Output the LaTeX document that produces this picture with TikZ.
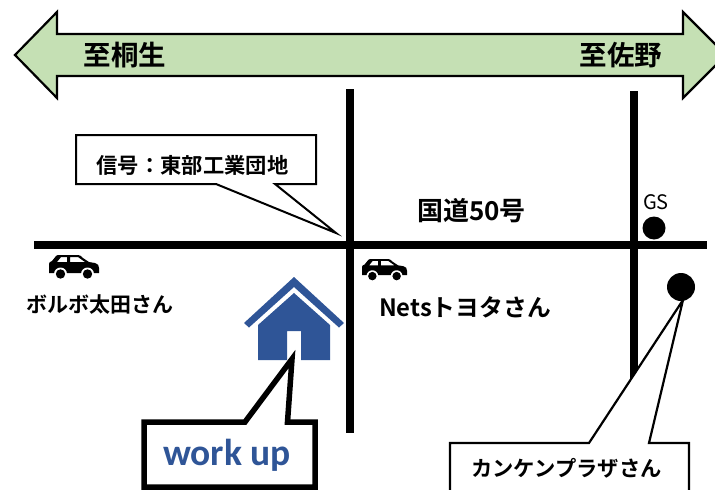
\documentclass[tikz,border=0pt]{standalone}
\usepackage{fontspec}
\setmainfont{Noto Sans CJK JP}[BoldFont={Noto Sans CJK JP Bold}]
\newfontfamily\latinfont{Carlito}
\usetikzlibrary{calc}
\definecolor{arrowgreen}{HTML}{C5E0B4}
\definecolor{housebl}{HTML}{2F5597}
\tikzset{
  x=1pt,y=-1pt,
  road/.style={line width=8pt,black},
  calloutbox/.style={draw=black,fill=white,line width=2pt,miter limit=20,line join=miter},
  big/.style={font=\fontsize{27.5}{27.5}\selectfont\bfseries,inner sep=0pt},
  mid/.style={font=\fontsize{21.3}{21.3}\selectfont\bfseries,inner sep=0pt},
  lab/.style={font=\fontsize{21}{21}\selectfont\bfseries,inner sep=0pt},
  dotmark/.style={circle,fill=black,inner sep=0pt},
}
\newcommand{\carglyph}[3]{%
\begin{scope}[shift={(#1,#2)},xscale=#3,yscale=#3]
 \fill[black,even odd rule] (0,18) -- (0,9) .. controls (0,7) and (1,7) .. (3,6) -- (7,1) .. controls (8,0) and (9,0) .. (11,0)
   -- (29,0) .. controls (31,0) and (32,1) .. (34,3) -- (40,7) -- (46,8) .. controls (49,9) and (50,10) .. (50,13) -- (50,18) -- cycle
   (8,7) -- (12,2) -- (18,2) -- (18,7) -- cycle
   (21,2) -- (29,2) -- (36,7) -- (21,7) -- cycle;
 \fill[white] (11.5,19) circle (6.5) (38.5,19) circle (6.5);
 \fill[black] (11.5,19) circle (4.7) (38.5,19) circle (4.7);
\end{scope}}
\begin{document}
\begin{tikzpicture}
\useasboundingbox (0,0) rectangle (715,490);
\clip (0,0) rectangle (715,490);
% double arrow
\draw[draw=black,fill=arrowgreen,line width=2.2pt,miter limit=10]
  (15,55) -- (57,12) -- (57,34) -- (683,34) -- (683,12) -- (726,55) -- (683,98) -- (683,76) -- (57,76) -- (57,98) -- cycle;
\node[big] (toleft) at (125,55) {至桐生};
\node[big] (toright) at (621,55) {至佐野};
% roads
\coordinate (rw) at (34,245); \coordinate (re) at (707,245);
\coordinate (v1t) at (350,89); \coordinate (v1b) at (350,433);
\coordinate (v2t) at (634,91); \coordinate (v2b) at (634,382);
\draw[road] (rw) -- (re);
\draw[road] (v1t) -- (v1b);
\draw[road] (v2t) -- (v2b);
% signal callout
\coordinate (sigtip) at (336,233);
\draw[calloutbox] (76,135) -- (316,135) -- (316,184) -- (275,184) -- (sigtip) -- (216,184) -- (76,184) -- cycle;
\node[mid] (sig) at (192.5,165) {信号：東部工業団地};
\node[font=\fontsize{26}{26}\selectfont\bfseries,inner sep=0pt] (route) at (471.5,211) {国道50号};
% GS
\node[font=\fontsize{20}{20}\selectfont,inner sep=0pt] (gs) at (656,202) {GS};
\node[dotmark,minimum size=23pt] (gsdot) at (654,228) {};
% cars
\carglyph{49}{255}{1}
\carglyph{362}{259}{0.9}
\node[lab] (volvo) at (100.5,305) {ボルボ太田さん};
\node[font=\fontsize{23.8}{23.8}\selectfont\bfseries,inner sep=0pt] (nets) at (465,307) {Netsトヨタさん};
% house
\fill[housebl] (244,323) -- (294,277) -- (344,323) -- (339,327.5) -- (294,287) -- (249,327.5) -- cycle;
\fill[housebl] (258,325) -- (294,293) -- (330,325) -- (330,360) -- (301,360) -- (301,331) -- (287,331) -- (287,360) -- (258,360) -- cycle;
% work up callout
\draw[calloutbox,line width=5.5pt] (144,422) -- (245,422) -- (292,359) -- (287.5,422) -- (315,422) -- (315,487) -- (144,487) -- cycle;
\node[font=\fontsize{37.5}{37.5}\selectfont\latinfont\bfseries,text=housebl,inner sep=0pt] (work) at (227,455) {work up};
% Kanken
\node[dotmark,minimum size=28pt] (kdot) at (681,287) {};
\draw[calloutbox,line width=2.2pt] (450,500) -- (450,443) -- (589,443) -- (683,300) -- (649,443) -- (689,443) -- (689,500);
\node[mid] (kanken) at (566.5,468) {カンケンプラザさん};
\end{tikzpicture}
\end{document}
